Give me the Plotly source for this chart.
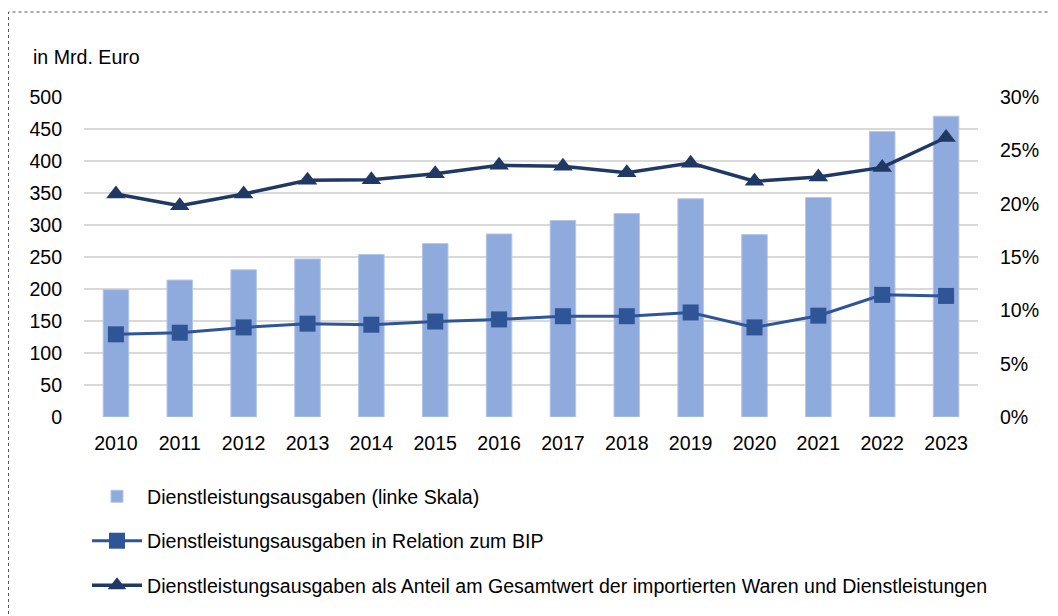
import plotly.graph_objects as go

years = ["2010", "2011", "2012", "2013", "2014", "2015", "2016",
         "2017", "2018", "2019", "2020", "2021", "2022", "2023"]
ausgaben = [199, 214, 230, 247, 254, 271, 286, 307, 318, 341, 285, 343, 446, 470]
rel_bip = [7.75, 7.9, 8.4, 8.75, 8.65, 8.95, 9.15, 9.45, 9.45, 9.8, 8.4, 9.5, 11.45, 11.35]
anteil = [20.9, 19.8, 20.9, 22.2, 22.25, 22.8, 23.6, 23.5, 22.9, 23.8, 22.1, 22.5, 23.4, 26.2]
pct_vals = [0, 5, 10, 15, 20, 25, 30]
pct_text = ["0%", "5%", "10%", "15%", "20%", "25%", "30%"]

name_bar = "Dienstleistungsausgaben (linke Skala)"
name_bip = "Dienstleistungsausgaben in Relation zum BIP"
name_ant = "Dienstleistungsausgaben als Anteil am Gesamtwert der importierten Waren und Dienstleistungen"

FONT = "Liberation Sans, Arial, sans-serif"
FS = 19.6
W, H = 1058, 616
OFF = 8  # page body margin offset
# desired screen positions of the plot area
SX0, SX1, SY0, SY1 = 84, 978, 97, 417
L = SX0 - OFF
T = SY0 - OFF
R = W - (SX1 - OFF)
B = H - (SY1 - OFF)
pw, ph = W - L - R, H - T - B

def px(sx):
    return (sx - OFF - L) / pw

def py(sy):
    return (H - B - (sy - OFF)) / ph

fig = go.Figure()
fig.add_trace(go.Bar(
    x=years, y=ausgaben, name=name_bar, legendgroup="a",
    marker=dict(color="#8faadc", line=dict(color="#b4c7e7", width=1)),
    yaxis="y",
))
fig.add_trace(go.Scatter(
    x=years, y=rel_bip, name=name_bip, legendgroup="b", mode="lines+markers",
    line=dict(color="#2f5597", width=3),
    marker=dict(symbol="square", size=16, color="#2f5597"),
    yaxis="y2",
))
fig.add_trace(go.Scatter(
    x=years, y=anteil, name=name_ant, legendgroup="c", mode="lines+markers",
    line=dict(color="#203864", width=3.5),
    marker=dict(symbol="triangle-up", size=17, color="#203864"),
    yaxis="y2",
))

fig.update_layout(
    width=W, height=H,
    margin=dict(l=L, r=R, t=T, b=B, autoexpand=False),
    paper_bgcolor="white", plot_bgcolor="white",
    font=dict(family=FONT, size=FS, color="#000000"),
    bargap=0.6,
    showlegend=True,
    legend=dict(
        xref="container", yref="container",
        x=(87 - OFF) / W, y=1 - (477 - OFF) / H, xanchor="left", yanchor="top",
        orientation="v", traceorder="grouped", tracegroupgap=16,
        itemwidth=50, font=dict(family=FONT, size=FS, color="#000000"),
        bgcolor="rgba(0,0,0,0)",
    ),
    xaxis=dict(
        type="category", range=[-0.5, len(years) - 0.5],
        showgrid=False, zeroline=False, showline=False,
        ticks="outside", ticklen=8, tickcolor="rgba(0,0,0,0)",
        tickangle=0, tickfont=dict(family=FONT, size=FS),
    ),
    yaxis=dict(
        range=[0, 500], dtick=50, tick0=0, showgrid=True,
        gridcolor="#d9d9d9", gridwidth=1.5, zeroline=False, showline=False,
        ticks="outside", ticklen=17, tickcolor="rgba(0,0,0,0)",
        tickfont=dict(family=FONT, size=FS),
    ),
    yaxis2=dict(
        range=[0, 30], tickvals=pct_vals, ticktext=pct_text,
        overlaying="y", side="right", showgrid=False, zeroline=False,
        showline=False, ticks="outside", ticklen=17,
        tickcolor="rgba(0,0,0,0)", tickfont=dict(family=FONT, size=FS),
    ),
    annotations=[dict(
        text="in Mrd. Euro", xref="paper", yref="paper",
        x=px(31), y=py(57), xanchor="left", yanchor="middle",
        showarrow=False, font=dict(family=FONT, size=FS, color="#000000"),
    )],
    shapes=[dict(
        type="rect", xref="paper", yref="paper",
        x0=px(OFF + 0.5), x1=px(1075), y0=py(640), y1=py(12),
        line=dict(color="#555555", width=1, dash="dot"),
        fillcolor="rgba(0,0,0,0)", layer="below",
    )],
)

fig.write_html("out.html")
